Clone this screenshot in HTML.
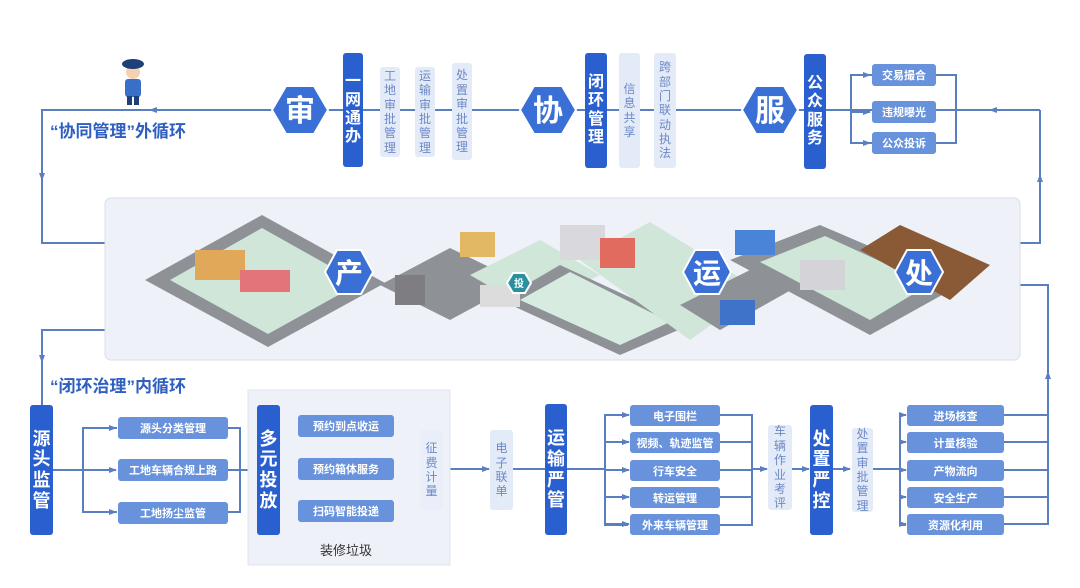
<!DOCTYPE html>
<html><head><meta charset="utf-8"><style>
*{margin:0;padding:0;box-sizing:border-box}
body{width:1080px;height:588px;background:#fff;position:relative;overflow:hidden;font-family:"Liberation Sans","Noto Sans CJK SC",sans-serif}
.a{position:absolute}
.dk{position:absolute;background:#2a5fcf;color:#fff;border-radius:3px;display:flex;flex-direction:column;align-items:center;justify-content:center;font-weight:bold;line-height:1.15}
.lt{position:absolute;background:#e4ebf8;color:#6c88c6;border-radius:3px;display:flex;flex-direction:column;align-items:center;justify-content:center;font-size:12px;line-height:1.2}
.md{position:absolute;background:#6893dc;color:#fff;border-radius:3px;font-size:11px;font-weight:bold;display:flex;align-items:center;justify-content:center}
.ttl{position:absolute;color:#2f5fc0;font-weight:bold;font-size:17px}
svg{position:absolute;left:0;top:0}
</style></head><body>
<svg width="1080" height="588">
<defs><marker id="ar" markerWidth="8" markerHeight="8" refX="7" refY="4" orient="auto" markerUnits="userSpaceOnUse"><path d="M0,1 L8,4 L0,7z" fill="#5a7fc0"/></marker></defs>
<g stroke="#5a7fc0" stroke-width="2" fill="none">
<polyline points="1040,110 42,110 42,243 105,243"/>
<path d="M42,110 V180" marker-end="url(#ar)"/>
<path d="M200,110 H150" marker-end="url(#ar)"/>
<polyline points="1020,243 1040,243 1040,110"/>
<path d="M1040,200 V175" marker-end="url(#ar)"/>
<path d="M1040,110 H990" marker-end="url(#ar)"/>
<polyline points="105,330 42,330 42,405"/>
<path d="M42,330 V362" marker-end="url(#ar)"/>
<polyline points="1020,285 1048,285 1048,525"/>
<path d="M1048,400 V372" marker-end="url(#ar)"/>
<path d="M826,110 H956"/>
<polyline points="872,75 851,75 851,143 872,143"/>
<path d="M851,75 H870" marker-end="url(#ar)"/><path d="M851,112 H870" marker-end="url(#ar)"/><path d="M851,143 H870" marker-end="url(#ar)"/>
<polyline points="936,75 956,75 956,143 936,143"/>
<path d="M53,470 H83"/>
<polyline points="117,428 83,428 83,512 117,512"/>
<path d="M83,428 H116" marker-end="url(#ar)"/><path d="M83,470 H116" marker-end="url(#ar)"/><path d="M83,512 H116" marker-end="url(#ar)"/>
<polyline points="228,428 240,428 240,512 228,512"/><path d="M228,470 H240"/>
<path d="M240,470 H256" marker-end="url(#ar)"/>
<path d="M280,470 H285"/>
<polyline points="297,426 285,426 285,510 297,510"/>
<path d="M285,426 H297" marker-end="url(#ar)"/><path d="M285,469 H297" marker-end="url(#ar)"/><path d="M285,510 H297" marker-end="url(#ar)"/>
<polyline points="394,426 407,426 407,510 394,510"/>
<path d="M394,469 H420" marker-end="url(#ar)"/>
<path d="M443,469 H489" marker-end="url(#ar)"/>
<path d="M513,469 H545"/>
<path d="M567,469 H605"/>
<polyline points="628,415 605,415 605,525 628,525"/>
<path d="M605,415 H629" marker-end="url(#ar)"/><path d="M605,442 H629" marker-end="url(#ar)"/><path d="M605,470 H629" marker-end="url(#ar)"/><path d="M605,497 H629" marker-end="url(#ar)"/><path d="M605,524 H629" marker-end="url(#ar)"/>
<polyline points="720,415 752,415 752,525 720,525"/>
<path d="M720,442 H752 M720,470 H752 M720,497 H752"/>
<path d="M752,469 H767" marker-end="url(#ar)"/>
<path d="M792,469 H809" marker-end="url(#ar)"/>
<path d="M833,469 H850" marker-end="url(#ar)"/>
<path d="M873,469 H900"/>
<polyline points="906,415 900,415 900,525 906,525"/>
<path d="M900,415 H906" marker-end="url(#ar)"/><path d="M900,442 H906" marker-end="url(#ar)"/><path d="M900,470 H906" marker-end="url(#ar)"/><path d="M900,497 H906" marker-end="url(#ar)"/><path d="M900,524 H906" marker-end="url(#ar)"/>
<path d="M1004,415 H1048 M1004,442 H1048 M1004,470 H1048 M1004,497 H1048 M1004,524 H1048"/>
</g>
<rect x="248" y="390" width="202" height="175" fill="#eef1f8" stroke="#dfe4ee"/>
<rect x="105" y="198" width="915" height="162" rx="6" fill="#eef1f8" stroke="#d8deea"/>
<g>
<polygon points="145,280 262,215 385,283 268,347" fill="#8e9297"/>
<polygon points="170,280 262,228 360,283 268,334" fill="#cfe6d8"/>
<polygon points="380,285 450,248 520,282 450,320" fill="#8e9297"/>
<polygon points="470,275 540,240 600,275 530,310" fill="#cfe6d8"/>
<polygon points="500,300 560,265 690,325 620,355" fill="#8e9297"/>
<polygon points="520,300 570,272 670,322 620,345" fill="#d7ebe0"/>
<polygon points="580,260 650,222 760,290 690,340" fill="#cfe6d8"/>
<polygon points="680,305 760,265 800,285 720,330" fill="#8e9297"/>
<polygon points="730,260 820,225 960,285 870,335" fill="#8e9297"/>
<polygon points="760,262 825,236 930,284 870,320" fill="#cfe6d8"/>
<polygon points="860,250 900,225 990,265 950,300" fill="#8a5a36"/>
<rect x="195" y="250" width="50" height="30" fill="#e2a85a"/>
<rect x="240" y="270" width="50" height="22" fill="#e2747a"/>
<rect x="560" y="225" width="45" height="35" fill="#d9d9dd"/>
<rect x="600" y="238" width="35" height="30" fill="#e06b5e"/>
<rect x="735" y="230" width="40" height="25" fill="#4a84d8"/>
<rect x="800" y="260" width="45" height="30" fill="#d4d4d8"/>
<rect x="395" y="275" width="30" height="30" fill="#7e7e82"/>
<rect x="720" y="300" width="35" height="25" fill="#3f73c9"/>
<rect x="460" y="232" width="35" height="25" fill="#e2b863"/>
<rect x="480" y="285" width="40" height="22" fill="#dcdcdc"/>
</g>
<g fill="#3a6fd5" stroke="#fff" stroke-width="2">
<polygon points="272,110 286,86 314,86 328,110 314,134 286,134"/>
<polygon points="520,110 534,86 562,86 576,110 562,134 534,134"/>
<polygon points="742,110 756,86 784,86 798,110 784,134 756,134"/>
<polygon points="325,272 337,250 361,250 373,272 361,294 337,294"/>
<polygon points="683,272 695,250 719,250 731,272 719,294 695,294"/>
<polygon points="895,272 907,250 931,250 943,272 931,294 907,294"/>
<polygon points="507,283 513,273 525,273 531,283 525,293 513,293" fill="#2a8f9e"/>
</g>
<g fill="#fff" font-weight="bold" text-anchor="middle" font-family="Liberation Sans,Noto Sans CJK SC,sans-serif">
<text x="300" y="121" font-size="30">审</text>
<text x="548" y="121" font-size="30">协</text>
<text x="770" y="121" font-size="30">服</text>
<text x="349" y="283" font-size="28">产</text>
<text x="707" y="283" font-size="28">运</text>
<text x="919" y="283" font-size="28">处</text>
<text x="519" y="287" font-size="10">投</text>
</g>
<circle cx="133" cy="72" r="7" fill="#f4d2b0"/>
<ellipse cx="133" cy="64" rx="11" ry="5" fill="#1d3f7a"/>
<rect x="125" y="79" width="16" height="18" rx="3" fill="#3a6fc8"/>
<rect x="127" y="96" width="5" height="9" fill="#1d3f7a"/><rect x="134" y="96" width="5" height="9" fill="#1d3f7a"/>
</svg>
<div class="ttl" style="left:50px;top:117px">“协同管理”外循环</div>
<div class="ttl" style="left:50px;top:372px">“闭环治理”内循环</div>
<div class="a" style="left:320px;top:540px;font-size:13px;color:#333">装修垃圾</div>

<div class="dk" style="left:343px;top:53px;width:20px;height:114px;font-size:16px">一<br>网<br>通<br>办</div>
<div class="lt" style="left:380px;top:67px;width:20px;height:90px">工<br>地<br>审<br>批<br>管<br>理</div>
<div class="lt" style="left:415px;top:67px;width:20px;height:90px">运<br>输<br>审<br>批<br>管<br>理</div>
<div class="lt" style="left:452px;top:63px;width:20px;height:97px">处<br>置<br>审<br>批<br>管<br>理</div>
<div class="dk" style="left:585px;top:53px;width:22px;height:115px;font-size:16px">闭<br>环<br>管<br>理</div>
<div class="lt" style="left:619px;top:53px;width:21px;height:115px">信<br>息<br>共<br>享</div>
<div class="lt" style="left:654px;top:53px;width:22px;height:115px">跨<br>部<br>门<br>联<br>动<br>执<br>法</div>
<div class="dk" style="left:804px;top:54px;width:22px;height:115px;font-size:16px">公<br>众<br>服<br>务</div>
<div class="md" style="left:872px;top:64px;width:64px;height:22px">交易撮合</div>
<div class="md" style="left:872px;top:101px;width:64px;height:22px">违规曝光</div>
<div class="md" style="left:872px;top:132px;width:64px;height:22px">公众投诉</div>

<div class="dk" style="left:30px;top:405px;width:23px;height:130px;font-size:18px">源<br>头<br>监<br>管</div>
<div class="md" style="left:118px;top:417px;width:110px;height:22px">源头分类管理</div>
<div class="md" style="left:118px;top:459px;width:110px;height:22px">工地车辆合规上路</div>
<div class="md" style="left:118px;top:502px;width:110px;height:22px">工地扬尘监管</div>
<div class="dk" style="left:257px;top:405px;width:23px;height:130px;font-size:18px">多<br>元<br>投<br>放</div>
<div class="md" style="left:298px;top:415px;width:96px;height:22px">预约到点收运</div>
<div class="md" style="left:298px;top:458px;width:96px;height:22px">预约箱体服务</div>
<div class="md" style="left:298px;top:500px;width:96px;height:22px">扫码智能投递</div>
<div class="lt" style="left:420px;top:430px;width:23px;height:80px;background:#e9eef8">征<br>费<br>计<br>量</div>
<div class="lt" style="left:490px;top:430px;width:23px;height:80px">电<br>子<br>联<br>单</div>
<div class="dk" style="left:545px;top:404px;width:22px;height:131px;font-size:18px">运<br>输<br>严<br>管</div>
<div class="md" style="left:630px;top:405px;width:90px;height:21px">电子围栏</div>
<div class="md" style="left:630px;top:432px;width:90px;height:21px">视频、轨迹监管</div>
<div class="md" style="left:630px;top:460px;width:90px;height:21px">行车安全</div>
<div class="md" style="left:630px;top:487px;width:90px;height:21px">转运管理</div>
<div class="md" style="left:630px;top:514px;width:90px;height:21px">外来车辆管理</div>
<div class="lt" style="left:768px;top:425px;width:24px;height:85px">车<br>辆<br>作<br>业<br>考<br>评</div>
<div class="dk" style="left:810px;top:405px;width:23px;height:130px;font-size:18px">处<br>置<br>严<br>控</div>
<div class="lt" style="left:852px;top:428px;width:21px;height:84px">处<br>置<br>审<br>批<br>管<br>理</div>
<div class="md" style="left:907px;top:405px;width:97px;height:21px">进场核查</div>
<div class="md" style="left:907px;top:432px;width:97px;height:21px">计量核验</div>
<div class="md" style="left:907px;top:460px;width:97px;height:21px">产物流向</div>
<div class="md" style="left:907px;top:487px;width:97px;height:21px">安全生产</div>
<div class="md" style="left:907px;top:514px;width:97px;height:21px">资源化利用</div>
</body></html>
